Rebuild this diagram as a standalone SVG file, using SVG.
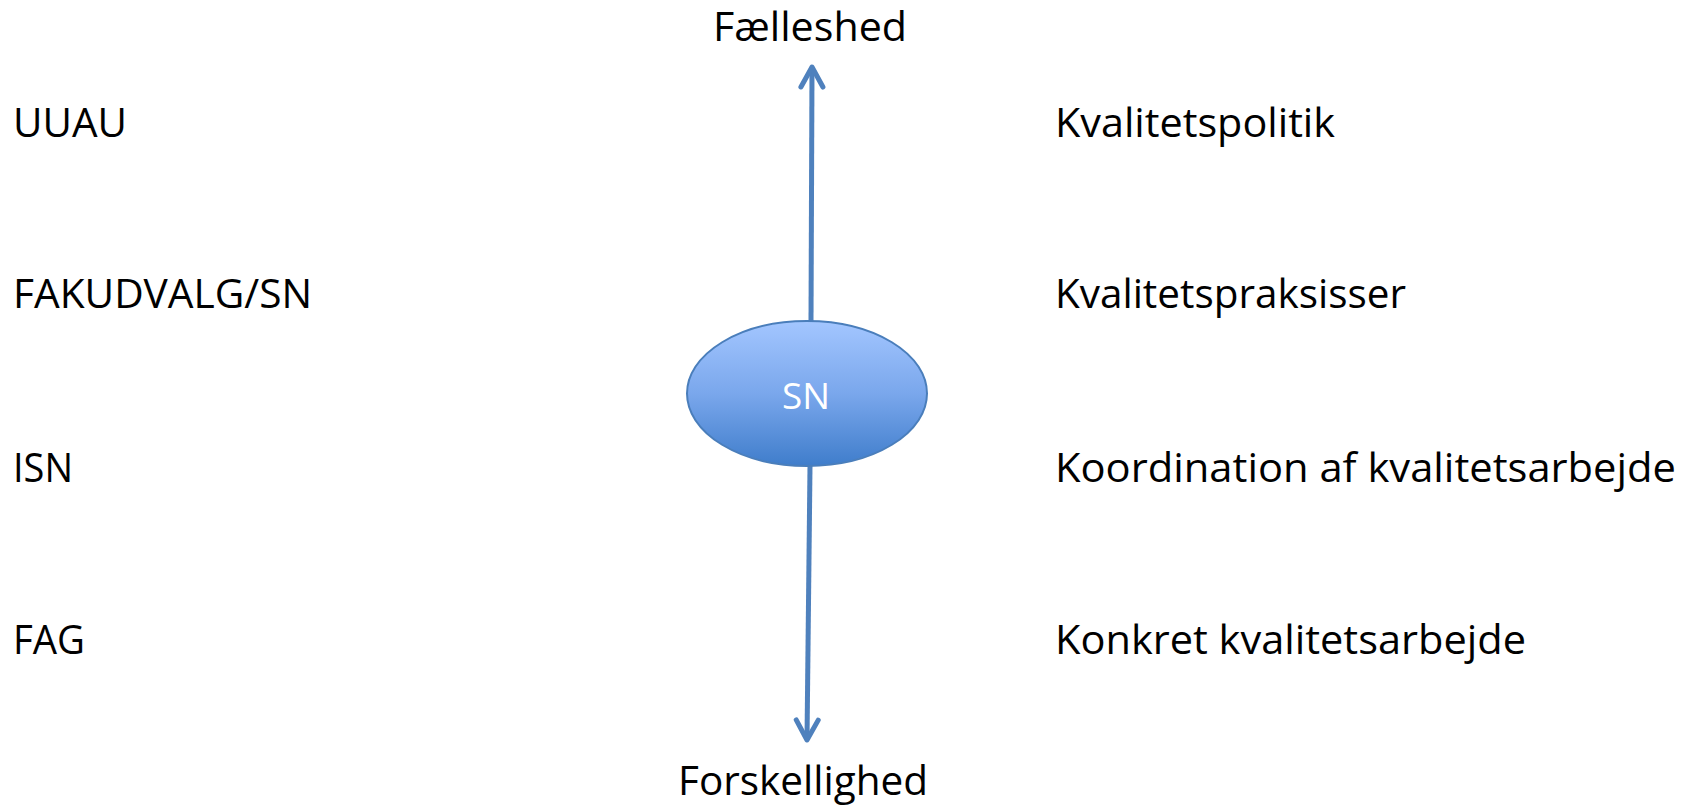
<svg xmlns="http://www.w3.org/2000/svg" width="1681" height="809" viewBox="0 0 1681 809">
<style>
.t{font-family:"Open Sans","Noto Sans","Liberation Sans",sans-serif;font-size:41px;fill:#000}
.w{font-family:"Open Sans","Noto Sans","Liberation Sans",sans-serif;font-size:37px;fill:#fff}
.c{fill:none;stroke:#4F81BD;stroke-width:5}
</style>
<defs>
<linearGradient id="g" x1="0" y1="0" x2="0" y2="1">
<stop offset="0" stop-color="#A3C6FF"/>
<stop offset="0.5" stop-color="#7AA7EC"/>
<stop offset="1" stop-color="#3F7DCB"/>
</linearGradient>
<marker id="ah" markerUnits="userSpaceOnUse" viewBox="-26 -16 32 32" refX="0" refY="0" markerWidth="32" markerHeight="32" orient="auto">
<path d="M-20,-11 L0,0 L-20,11" fill="none" stroke="#4F81BD" stroke-width="5" stroke-linecap="round" stroke-linejoin="round"/>
</marker>
</defs>
<g id="connectors">
<line class="c" x1="811" y1="321" x2="812" y2="67" marker-end="url(#ah)"/>
<line class="c" x1="810" y1="466" x2="807" y2="740" marker-end="url(#ah)"/>
</g>
<g id="node-sn">
<ellipse cx="807" cy="393.5" rx="120" ry="72.5" fill="url(#g)" stroke="#4A7EBB" stroke-width="2"/>
<text class="w" x="782" y="409" textLength="48" lengthAdjust="spacingAndGlyphs">SN</text>
</g>
<g id="node-faelleshed"><text class="t" x="713" y="41" textLength="194" lengthAdjust="spacingAndGlyphs">Fælleshed</text></g>
<g id="node-forskellighed"><text class="t" x="678" y="795" textLength="250" lengthAdjust="spacingAndGlyphs">Forskellighed</text></g>
<g id="node-uuau"><text class="t" x="13" y="137" textLength="114" lengthAdjust="spacingAndGlyphs">UUAU</text></g>
<g id="node-fakudvalg"><text class="t" x="13" y="308" textLength="299" lengthAdjust="spacingAndGlyphs">FAKUDVALG/SN</text></g>
<g id="node-isn"><text class="t" x="13" y="482" textLength="60" lengthAdjust="spacingAndGlyphs">ISN</text></g>
<g id="node-fag"><text class="t" x="13" y="654" textLength="72" lengthAdjust="spacingAndGlyphs">FAG</text></g>
<g id="node-kvalitetspolitik"><text class="t" x="1055" y="137" textLength="280" lengthAdjust="spacingAndGlyphs">Kvalitetspolitik</text></g>
<g id="node-kvalitetspraksisser"><text class="t" x="1055" y="308" textLength="351" lengthAdjust="spacingAndGlyphs">Kvalitetspraksisser</text></g>
<g id="node-koordination"><text class="t" x="1055" y="482" textLength="621" lengthAdjust="spacingAndGlyphs">Koordination af kvalitetsarbejde</text></g>
<g id="node-konkret"><text class="t" x="1055" y="654" textLength="471" lengthAdjust="spacingAndGlyphs">Konkret kvalitetsarbejde</text></g>
</svg>
